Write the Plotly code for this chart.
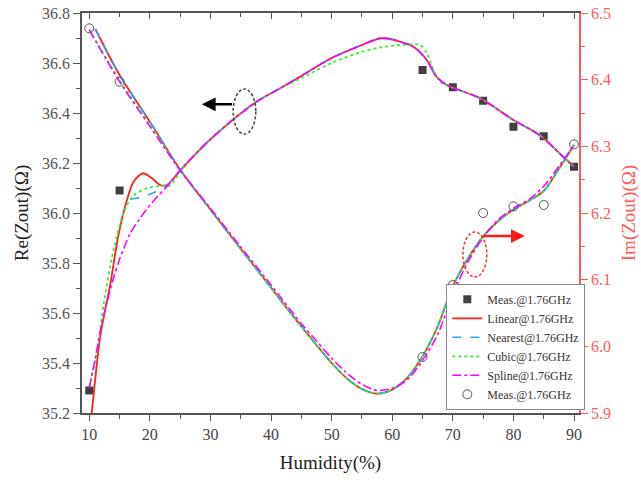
import plotly.graph_objects as go

# ---------------- data ----------------
humidity_meas = [10, 15, 65, 70, 75, 80, 85, 90]
re_meas = [35.29, 36.09, 36.572, 36.503, 36.449, 36.345, 36.307, 36.185]
im_meas = [6.477, 6.397, 5.984, 6.092, 6.200, 6.210, 6.212, 6.303]

# shared part of the Re curves (right of ~25 % humidity)
re_tail_h = [25, 27.5, 30, 33.8, 37.6, 41.5, 45, 50, 55, 58, 59.5, 61.3, 63.5, 65.7, 67.3, 69, 74.5, 80, 84.3, 88.2, 90]
re_tail_v = [36.17, 36.235, 36.295, 36.375, 36.445, 36.499, 36.548, 36.62, 36.672, 36.699, 36.697, 36.685, 36.665, 36.612, 36.545, 36.512, 36.459, 36.372, 36.312, 36.225, 36.185]

re_linear_h = [10.0, 10.4, 11.8, 13.5, 14.8, 16.2, 17.3, 18.85, 20.3, 21.7, 22.8] + re_tail_h
re_linear_v = [35.11, 35.2, 35.505, 35.72, 35.91, 36.05, 36.125, 36.159, 36.14, 36.112, 36.112] + re_tail_v

re_nearest_h = [16.8, 18.0, 20.0, 22.8] + re_tail_h
re_nearest_v = [36.055, 36.06, 36.075, 36.11] + re_tail_v

re_cubic_h = [10.0, 11.3, 12.4, 14.0, 15.65, 17.3, 19.5, 21.7, 23.35, 25, 27.5, 30, 33.8, 37.6, 41.5,
              45, 50, 55, 58, 61.3, 64.6, 65.7, 66.8, 67.9, 69, 74.5, 80, 84.3, 88.2, 90]
re_cubic_v = [35.305, 35.45, 35.64, 35.85, 36.0, 36.07, 36.099, 36.108, 36.11, 36.165, 36.235, 36.295, 36.375, 36.445, 36.499,
              36.54, 36.60, 36.645, 36.662, 36.672, 36.672, 36.639, 36.572, 36.525, 36.51, 36.459, 36.372, 36.312, 36.225, 36.185]

re_spline_h = [10.0, 11.0, 12.0, 13.0, 14.0, 15.0, 16.8, 19.0, 21.2, 22.8] + re_tail_h
re_spline_v = [35.30, 35.42, 35.55, 35.65, 35.74, 35.815, 35.92, 36.0, 36.065, 36.105] + re_tail_v

im_linear_h = [11, 15, 20, 25, 30, 35, 40, 41.5, 45, 47.5, 50, 52.5, 55, 57.5, 60, 62.5, 65, 67.5, 70, 72.5, 75, 77.5, 80, 82.5, 85, 87.5, 90]
im_linear_v = [6.476, 6.407, 6.337, 6.265, 6.205, 6.146, 6.088, 6.07, 6.03, 6.002, 5.975, 5.952, 5.936, 5.929, 5.935, 5.953, 5.985, 6.03, 6.09, 6.132, 6.165, 6.188, 6.205, 6.218, 6.233, 6.266, 6.302]
im_nearest_h = im_linear_h
im_nearest_v = im_linear_v
im_cubic_h = [10, 15, 20] + im_linear_h[3:]
im_cubic_v = [6.475, 6.399, 6.333] + im_linear_v[3:]
im_spline_h = [10, 15, 20, 25, 30, 35, 40, 45, 47.5, 50, 52.5, 55, 57.5, 60, 62.5, 65, 67.5, 70, 72.5, 75, 77.5, 80, 82.5, 85, 87.5, 90]
im_spline_v = [6.4745, 6.397, 6.33, 6.264, 6.207, 6.149, 6.092, 6.034, 6.008, 5.982, 5.96, 5.943, 5.934, 5.937, 5.95, 5.979, 6.018, 6.078, 6.127, 6.163, 6.19, 6.207, 6.22, 6.24, 6.27, 6.302]

x_ticks = [10, 20, 30, 40, 50, 60, 70, 80, 90]
re_ticks = [35.2, 35.4, 35.6, 35.8, 36.0, 36.2, 36.4, 36.6, 36.8]
im_ticks = [5.9, 6.0, 6.1, 6.2, 6.3, 6.4, 6.5]
label = "@1.76GHz"

# ---------------- styles ----------------
FONT = "Liberation Serif"
GRAY = "#555555"
RED_AX = "#ff5a5a"
C_LIN, C_NEA, C_CUB, C_SPL = "#ff2020", "#22a8f0", "#33ee33", "#ff00ff"

fig = go.Figure()

fig.add_trace(go.Scatter(x=humidity_meas, y=re_meas, mode="markers", name="Meas." + label,
                         marker=dict(symbol="square", size=8, color="#404040")))

curves = [("Linear", re_linear_h, re_linear_v, im_linear_h, im_linear_v, C_LIN, "solid", 1.8),
          ("Nearest", re_nearest_h, re_nearest_v, im_nearest_h, im_nearest_v, C_NEA, "dash", 1.6),
          ("Cubic", re_cubic_h, re_cubic_v, im_cubic_h, im_cubic_v, C_CUB, "dot", 1.8),
          ("Spline", re_spline_h, re_spline_v, im_spline_h, im_spline_v, C_SPL, "dashdot", 1.6)]

for name, rh, rv, ih, iv, col, dash, w in curves:
    fig.add_trace(go.Scatter(x=rh, y=rv, mode="lines", name=name + label,
                             line=dict(color=col, dash=dash, width=w, shape="spline", smoothing=0.8)))
for name, rh, rv, ih, iv, col, dash, w in curves:
    fig.add_trace(go.Scatter(x=ih, y=iv, mode="lines", name=name + label, showlegend=False, yaxis="y2",
                             line=dict(color=col, dash=dash, width=w, shape="spline", smoothing=0.8)))

fig.add_trace(go.Scatter(x=humidity_meas, y=im_meas, mode="markers", name="Meas." + label, yaxis="y2",
                         marker=dict(symbol="circle-open", size=9, color="#555555", line=dict(width=1))))

# invisible helper trace for the top (mirror) axis
fig.add_trace(go.Scatter(x=[x_ticks[0]], y=[re_ticks[0]], xaxis="x2", mode="markers",
                         marker=dict(opacity=0), showlegend=False, hoverinfo="skip"))

xr = [8.8, 90.82]
fig.update_layout(
    width=641, height=483,
    margin=dict(l=82, r=62, t=13, b=70, autoexpand=False),
    paper_bgcolor="white", plot_bgcolor="white",
    font=dict(family=FONT, color="#333333"),
    showlegend=True,
    legend=dict(x=0.733, y=0.008, xanchor="left", yanchor="bottom",
                bgcolor="white", bordercolor="#888888", borderwidth=1,
                font=dict(family=FONT, size=12, color="#333333"),
                itemwidth=30, tracegroupgap=0),
    xaxis=dict(range=xr, tickvals=x_ticks, ticks="outside", ticklen=6, tickwidth=1.3, tickcolor=GRAY,
               showline=True, linecolor=GRAY, linewidth=1.5, showgrid=False, zeroline=False, automargin=False,
               minor=dict(tick0=5, dtick=10, ticks="outside", ticklen=4, tickwidth=1.2, tickcolor=GRAY),
               tickfont=dict(family=FONT, size=16, color="#444444"),
               title=dict(text="Humidity(%)", font=dict(family=FONT, size=19, color="#222222"), standoff=14)),
    xaxis2=dict(range=xr, overlaying="x", side="top", anchor="y", tickvals=x_ticks, ticks="inside",
                ticklen=6, tickwidth=1.3, tickcolor=GRAY, showticklabels=False, automargin=False,
                showline=True, linecolor=GRAY, linewidth=1.5, showgrid=False, zeroline=False,
                minor=dict(tick0=5, dtick=10, ticks="inside", ticklen=4, tickwidth=1.2, tickcolor=GRAY)),
    yaxis=dict(range=[35.2, 36.8], tickvals=re_ticks, tickformat=".1f", ticks="outside", ticklen=7,
               tickwidth=1.3, tickcolor=GRAY, showline=True, linecolor=GRAY, linewidth=1.5,
               showgrid=False, zeroline=False, automargin=False,
               minor=dict(tick0=35.3, dtick=0.2, ticks="outside", ticklen=4, tickwidth=1.2, tickcolor=GRAY),
               tickfont=dict(family=FONT, size=16, color="#555555"),
               title=dict(text="Re(Zout)(Ω)", font=dict(family=FONT, size=19, color="#222222"), standoff=8)),
    yaxis2=dict(range=[5.9, 6.5], overlaying="y", side="right", anchor="x", tickvals=im_ticks, tickformat=".1f",
                ticks="outside", ticklen=7, tickwidth=1.3, tickcolor=RED_AX, showline=True,
                linecolor=RED_AX, linewidth=1.5, showgrid=False, zeroline=False, automargin=False,
                minor=dict(tick0=5.95, dtick=0.1, ticks="outside", ticklen=4, tickwidth=1.2, tickcolor=RED_AX),
                tickfont=dict(family=FONT, size=16, color=RED_AX),
                title=dict(text="Im(Zout)(Ω)", font=dict(family=FONT, size=19, color=RED_AX), standoff=12)),
)

# ellipses and arrows
fig.add_shape(type="circle", xref="x", yref="y", x0=33.74, x1=37.48, y0=36.316, y1=36.496,
              line=dict(color="#444444", width=1.5, dash="3px,2px"))
fig.add_shape(type="circle", xref="x", yref="y", x0=71.66, x1=75.61, y0=35.744, y1=35.924,
              line=dict(color="#ff3030", width=1.5, dash="3px,2px"))
fig.add_annotation(x=28.58, y=36.435, ax=33.79, ay=36.435, xref="x", yref="y", axref="x", ayref="y",
                   text="", showarrow=True, arrowhead=2, arrowsize=1.1, arrowwidth=2.5, arrowcolor="#000000")
fig.add_annotation(x=81.87, y=35.908, ax=74.74, ay=35.908, xref="x", yref="y", axref="x", ayref="y",
                   text="", showarrow=True, arrowhead=2, arrowsize=1.1, arrowwidth=2.5, arrowcolor="#ff1a1a")

fig.write_html("out.html")
